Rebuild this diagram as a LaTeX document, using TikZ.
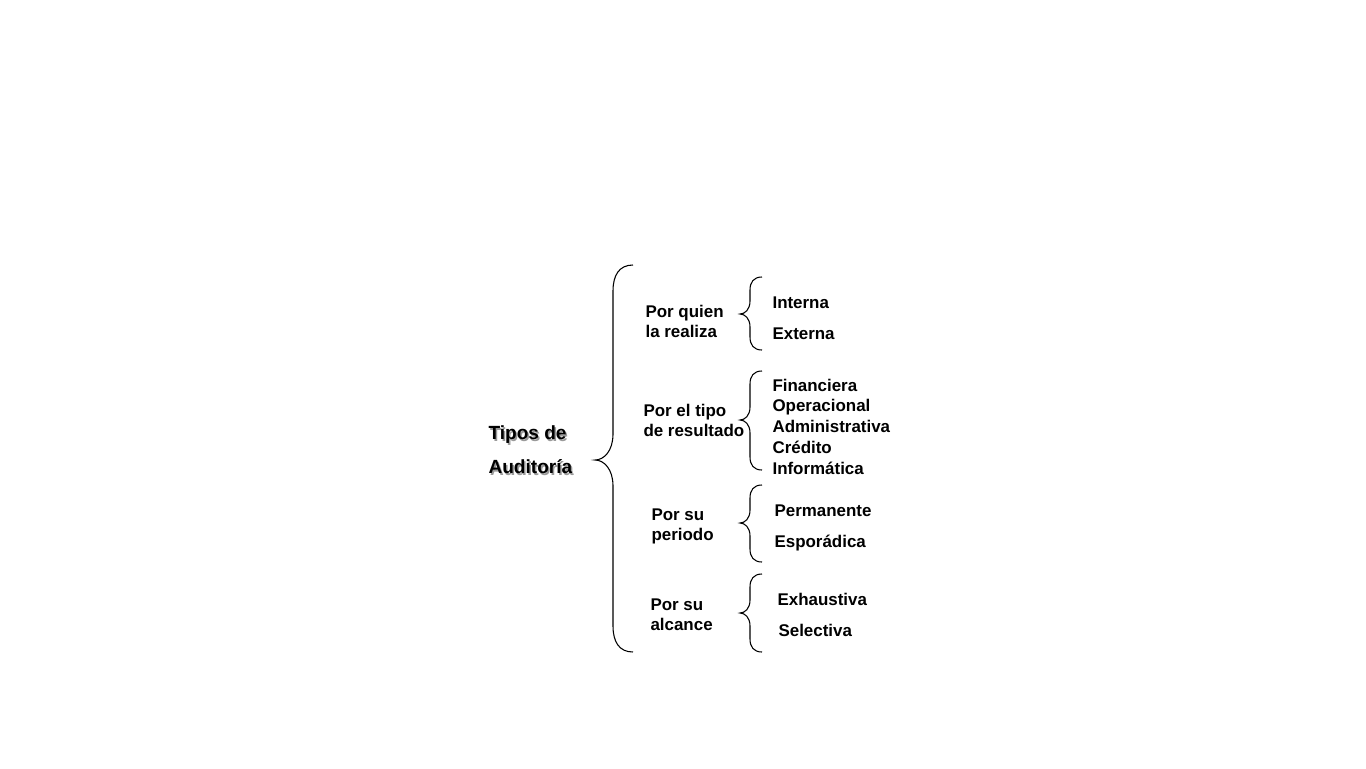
\documentclass[tikz,border=0pt]{standalone}
\usepackage{fontspec}
\setmainfont{Liberation Sans}
\usepackage{xcolor}
\definecolor{ShadowGrey}{HTML}{9a9a9a}

% curly brace: end x, line x, tip x, top y, tip y, bottom y, bend
\newcommand\curlybrace[7]{%
  \draw (#1,#4) .. controls ({#2+0.3*(#1-#2)},#4) and (#2,{#4+0.4*#7}) .. (#2,{#4+#7})
    -- (#2,{#5-#7}) .. controls (#2,{#5-0.35*#7}) and ({#3+0.5*(#2-#3)},#5) .. (#3,#5)
    .. controls ({#3+0.5*(#2-#3)},#5) and (#2,{#5+0.35*#7}) .. (#2,{#5+#7})
    -- (#2,{#6-#7}) .. controls (#2,{#6-0.4*#7}) and ({#2+0.3*(#1-#2)},#6) .. (#1,#6);}

\tikzset{
  item/.style={anchor=west, inner sep=0pt, align=left,
    font=\fontsize{12.7}{15}\selectfont\bfseries},
  kind/.style={item, anchor=base west},
  title/.style={anchor=west, inner sep=0pt, align=left,
    font=\fontsize{14.3}{25.5}\selectfont\bfseries},
}

\begin{document}
\begin{tikzpicture}[x=0.75pt,y=-0.75pt,line width=0.8pt]
  \useasboundingbox (0,0) rectangle (1366,768);

  % title with its shadow
  \node[title, text=ShadowGrey] (tituloshadow) at (489.5,451.5) {Tipos de\\Auditoría};
  \node[title] (titulo) at (488,450) {Tipos de\\Auditoría};

  \curlybrace{633}{613}{595}{265}{460}{652}{26}

  % criteria
  \node[item] (quien) at (645,321) {Por quien\\la realiza};
  \node[item] (tipo) at (643,420) {Por el tipo\\de resultado};
  \node[item] (periodo) at (651,526) {Por su\\periodo};
  \node[item] (alcance) at (650,615) {Por su\\alcance};

  \curlybrace{762}{750}{740}{277}{314}{350}{13}
  \curlybrace{762}{750}{740}{371}{420}{470}{13}
  \curlybrace{762}{750}{740}{485}{523}{562}{13}
  \curlybrace{762}{750}{740}{574}{613}{652}{13}

  % kinds
  \foreach \name/\x/\y/\txt in {interna/772/302/Interna, externa/772/333/Externa,
      financiera/772/385/Financiera, operacional/772/405/Operacional,
      administrativa/772/426/Administrativa, credito/772/447/Crédito,
      informatica/772/468/Informática, permanente/774/510/Permanente,
      esporadica/774/541/Esporádica, exhaustiva/777/599/Exhaustiva,
      selectiva/778/630/Selectiva} {
    \node[kind] (\name) at (\x,\y+6) {\txt};
  }
\end{tikzpicture}
\end{document}
